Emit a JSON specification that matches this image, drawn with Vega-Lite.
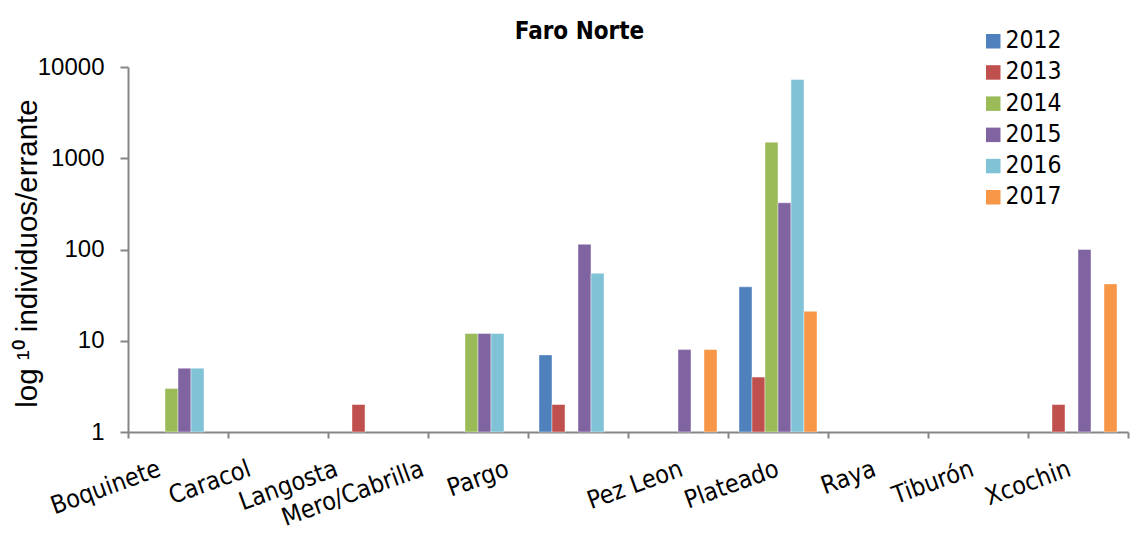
{
  "$schema": "https://vega.github.io/schema/vega-lite/v6.json",
  "width": 1000,
  "height": 365,
  "autosize": {"type": "none"},
  "padding": {"left": 128, "top": 67, "right": 10, "bottom": 101},
  "background": "white",
  "data": {
    "values": [
      {"especie": "Boquinete", "anio": "2014", "valor": 3},
      {"especie": "Boquinete", "anio": "2015", "valor": 5},
      {"especie": "Boquinete", "anio": "2016", "valor": 5},
      {"especie": "Langosta", "anio": "2013", "valor": 2},
      {"especie": "Mero/Cabrilla", "anio": "2014", "valor": 12},
      {"especie": "Mero/Cabrilla", "anio": "2015", "valor": 12},
      {"especie": "Mero/Cabrilla", "anio": "2016", "valor": 12},
      {"especie": "Pargo", "anio": "2012", "valor": 7},
      {"especie": "Pargo", "anio": "2013", "valor": 2},
      {"especie": "Pargo", "anio": "2015", "valor": 114},
      {"especie": "Pargo", "anio": "2016", "valor": 55},
      {"especie": "Pez Leon", "anio": "2015", "valor": 8},
      {"especie": "Pez Leon", "anio": "2017", "valor": 8},
      {"especie": "Plateado", "anio": "2012", "valor": 39},
      {"especie": "Plateado", "anio": "2013", "valor": 4},
      {"especie": "Plateado", "anio": "2014", "valor": 1500},
      {"especie": "Plateado", "anio": "2015", "valor": 325},
      {"especie": "Plateado", "anio": "2016", "valor": 7300},
      {"especie": "Plateado", "anio": "2017", "valor": 21},
      {"especie": "Xcochin", "anio": "2013", "valor": 2},
      {"especie": "Xcochin", "anio": "2015", "valor": 100},
      {"especie": "Xcochin", "anio": "2017", "valor": 42}
    ]
  },
  "mark": {"type": "bar", "stroke": "white", "strokeWidth": 0.6, "strokeOpacity": 0.7},
  "encoding": {
    "x": {
      "field": "especie",
      "type": "nominal",
      "sort": null,
      "scale": {
        "domain": ["Boquinete", "Caracol", "Langosta", "Mero/Cabrilla", "Pargo", "Pez Leon", "Plateado", "Raya", "Tiburón", "Xcochin"],
        "paddingInner": 0,
        "paddingOuter": 0
      },
      "axis": {
        "title": "Faro Norte",
        "titleFont": "DejaVu Sans Condensed, DejaVu Sans",
        "titleFontSize": 24,
        "titleFontWeight": "bold",
        "titleColor": "black",
        "titleX": 451,
        "titleY": -394,
        "titleAlign": "center",
        "titleBaseline": "alphabetic",
        "tickBand": "extent",
        "domainColor": "#868686",
        "domainWidth": 2,
        "tickColor": "#868686",
        "tickWidth": 2,
        "tickSize": 6,
        "labelAngle": -20,
        "labelAlign": "right",
        "labelBaseline": "top",
        "labelPadding": 18,
        "labelFont": "DejaVu Sans Condensed, DejaVu Sans",
        "labelFontSize": 25,
        "labelColor": "black",
        "labelOverlap": false,
        "labelLimit": 400,
        "labelOffset": {
          "condition": [
            {"test": "datum.value === 'Boquinete'", "value": -23},
            {"test": "datum.value === 'Caracol'", "value": -33},
            {"test": "datum.value === 'Langosta'", "value": -46},
            {"test": "datum.value === 'Mero/Cabrilla'", "value": -60},
            {"test": "datum.value === 'Pargo'", "value": -75},
            {"test": "datum.value === 'Pez Leon'", "value": -1},
            {"test": "datum.value === 'Plateado'", "value": -5},
            {"test": "datum.value === 'Raya'", "value": -8},
            {"test": "datum.value === 'Tiburón'", "value": -10}
          ],
          "value": -13
        }
      }
    },
    "xOffset": {
      "field": "anio",
      "type": "nominal",
      "scale": {"domain": ["2012", "2013", "2014", "2015", "2016", "2017"], "paddingInner": 0, "paddingOuter": 0.846}
    },
    "y": {
      "field": "valor",
      "type": "quantitative",
      "stack": null,
      "scale": {"type": "log", "domain": [1, 10000], "nice": false},
      "axis": {
        "title": "log ¹⁰ individuos/errante",
        "titleFont": "Liberation Sans",
        "titleFontSize": 29.5,
        "titleFontWeight": "normal",
        "titleColor": "black",
        "titleX": -92,
        "titleY": 186,
        "titleAlign": "center",
        "titleBaseline": "alphabetic",
        "values": [1, 10, 100, 1000, 10000],
        "format": "d",
        "grid": false,
        "domainColor": "#868686",
        "domainWidth": 2,
        "tickColor": "#868686",
        "tickWidth": 2,
        "tickSize": 8,
        "labelPadding": 16,
        "labelFont": "Liberation Sans",
        "labelFontSize": 24,
        "labelColor": "black"
      }
    },
    "color": {
      "field": "anio",
      "type": "nominal",
      "scale": {
        "domain": ["2012", "2013", "2014", "2015", "2016", "2017"],
        "range": ["#4F81BD", "#C0504D", "#9BBB59", "#8064A2", "#80C3D7", "#F79646"]
      },
      "legend": {
        "title": null,
        "orient": "none",
        "legendX": 853,
        "legendY": -38,
        "symbolType": "square",
        "symbolSize": 210,
        "symbolStrokeWidth": 0,
        "symbolOpacity": 1,
        "labelFont": "DejaVu Sans Condensed, DejaVu Sans",
        "labelFontSize": 24.5,
        "labelColor": "black",
        "labelOffset": 0,
        "rowPadding": 6.2,
        "padding": 0
      }
    }
  },
  "config": {
    "view": {"stroke": null}
  }
}
